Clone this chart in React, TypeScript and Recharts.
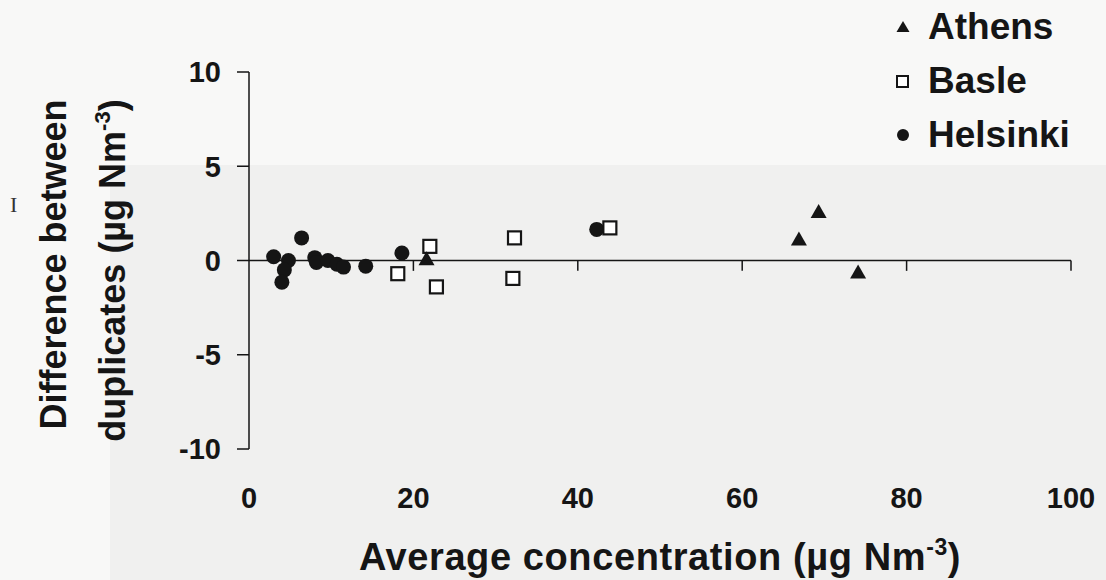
import React from "react";
import { ScatterChart, Scatter, XAxis, YAxis, ReferenceLine, Legend, Label } from "recharts";

// values
const helsinkiX = [3.0, 4.8, 4.3, 4.0, 6.4, 8.0, 8.2, 9.6, 10.7, 11.5, 14.2, 18.6, 42.3];
const helsinkiY = [0.2, 0.0, -0.5, -1.15, 1.2, 0.15, -0.1, 0.0, -0.2, -0.35, -0.3, 0.4, 1.65];
const basleX = [18.1, 22.0, 22.8, 32.3, 32.1, 43.9];
const basleY = [-0.7, 0.75, -1.4, 1.2, -0.95, 1.73];
const athensX = [21.6, 66.9, 69.3, 74.1];
const athensY = [0.0, 1.05, 2.5, -0.7];

const xTicks = [0, 20, 40, 60, 80, 100];
const yTicks = [-10, -5, 0, 5, 10];
const cities = ["Athens", "Basle", "Helsinki"];

const zip = (xs: number[], ys: number[]) => xs.map((x, i) => ({ x, y: ys[i] }));
const helsinki = zip(helsinkiX, helsinkiY);
const basle = zip(basleX, basleY);
const athens = zip(athensX, athensY);

const FONT = "'Liberation Sans', Arial, Helvetica, sans-serif";
const INK = "#151515";

const Dot = (p: any) => <circle cx={p.cx} cy={p.cy} r={7.5} fill={INK} />;
const Box = (p: any) => (
  <rect x={p.cx - 6.5} y={p.cy - 6.5} width={13} height={13} fill="#fff" stroke={INK} strokeWidth={2.2} />
);
const Tri = (p: any) => (
  <polygon
    points={`${p.cx},${p.cy - 9.3} ${p.cx - 8},${p.cy + 4.7} ${p.cx + 8},${p.cy + 4.7}`}
    fill={INK}
  />
);

function XTick({ x, y, payload }: any) {
  return (
    <text x={x} y={y + 59} textAnchor="middle" fill={INK} fontFamily={FONT} fontWeight={700} fontSize={29}>
      {payload.value}
    </text>
  );
}

function XTitle({ viewBox }: any) {
  const cx = viewBox.x + viewBox.width / 2;
  return (
    <text
      x={cx}
      y={viewBox.y + 121}
      textAnchor="middle"
      fill={INK}
      fontFamily={FONT}
      fontWeight={700}
      fontSize={38}
      letterSpacing={0.6}
    >
      Average concentration (µg Nm
      <tspan dy={-15} fontSize={23}>-3</tspan>
      <tspan dy={15}>)</tspan>
    </text>
  );
}

function YTitle({ viewBox }: any) {
  const cy = viewBox.y + viewBox.height / 2;
  const x1 = 66;
  const x2 = 125;
  return (
    <g fill={INK} fontFamily={FONT} fontWeight={700} fontSize={36}>
      <text x={x1} y={cy + 4} textAnchor="middle" transform={`rotate(-90, ${x1}, ${cy + 4})`}>
        Difference between
      </text>
      <text x={x2} y={cy + 10} textAnchor="middle" transform={`rotate(-90, ${x2}, ${cy + 10})`}>
        duplicates (µg Nm
        <tspan dy={-15} fontSize={22}>-3</tspan>
        <tspan dy={15}>)</tspan>
      </text>
    </g>
  );
}

function LegendMarker({ name }: { name: string }) {
  return (
    <svg width={20} height={20} style={{ marginRight: 15 }}>
      {name === "Athens" && <polygon points="10,4 3.5,15 16.5,15" fill={INK} />}
      {name === "Basle" && <rect x={4} y={5} width={11} height={11} fill="#fff" stroke={INK} strokeWidth={2} />}
      {name === "Helsinki" && <circle cx={10} cy={10} r={6} fill={INK} />}
    </svg>
  );
}

function CityLegend() {
  return (
    <div style={{ fontFamily: FONT, fontWeight: 700, fontSize: 37, color: INK }}>
      {cities.map((c) => (
        <div key={c} style={{ display: "flex", alignItems: "center", height: 54 }}>
          <LegendMarker name={c} />
          <span>{c}</span>
        </div>
      ))}
    </div>
  );
}

export default function App() {
  return (
    <div style={{ position: "absolute", left: 0, top: 0, width: 1106, height: 580, background: "#f8f8f7", overflow: "hidden" }}>
      <div style={{ position: "absolute", left: 110, top: 165, right: 0, bottom: 0, background: "#f0f0ef" }} />
      <div style={{ position: "absolute", left: 10, top: 192, fontFamily: "serif", fontSize: 22, color: "#333" }}>I</div>
      <ScatterChart width={1106} height={580} margin={{ top: 72, right: 35, left: 189, bottom: 71 }}>
        <XAxis
          type="number"
          dataKey="x"
          domain={[0, 100]}
          ticks={xTicks}
          axisLine={false}
          tickLine={false}
          tickSize={0}
          tickMargin={0}
          height={60}
          tick={<XTick />}
        >
          <Label content={<XTitle />} />
        </XAxis>
        <YAxis
          type="number"
          dataKey="y"
          domain={[-10, 10]}
          ticks={yTicks}
          width={60}
          axisLine={{ stroke: INK, strokeWidth: 1.5 }}
          tickLine={{ stroke: INK, strokeWidth: 1.5 }}
          tickSize={12}
          tickMargin={16}
          tick={{ fill: INK, fontFamily: FONT, fontWeight: 700, fontSize: 29 }}
        >
          <Label content={<YTitle />} />
        </YAxis>
        <ReferenceLine y={0} stroke={INK} strokeWidth={1.5} ifOverflow="visible" />
        {xTicks.slice(1).map((t) => (
          <ReferenceLine
            key={t}
            segment={[{ x: t, y: 0 }, { x: t, y: -0.55 }]}
            stroke={INK}
            strokeWidth={1.5}
            ifOverflow="visible"
          />
        ))}
        <Scatter name="Helsinki" data={helsinki} shape={<Dot />} isAnimationActive={false} />
        <Scatter name="Basle" data={basle} shape={<Box />} isAnimationActive={false} />
        <Scatter name="Athens" data={athens} shape={<Tri />} isAnimationActive={false} />
        <Legend
          layout="vertical"
          align="center"
          verticalAlign="middle"
          content={<CityLegend />}
          wrapperStyle={{ position: "absolute", left: 893, top: 0, width: 213 }}
        />
      </ScatterChart>
    </div>
  );
}
